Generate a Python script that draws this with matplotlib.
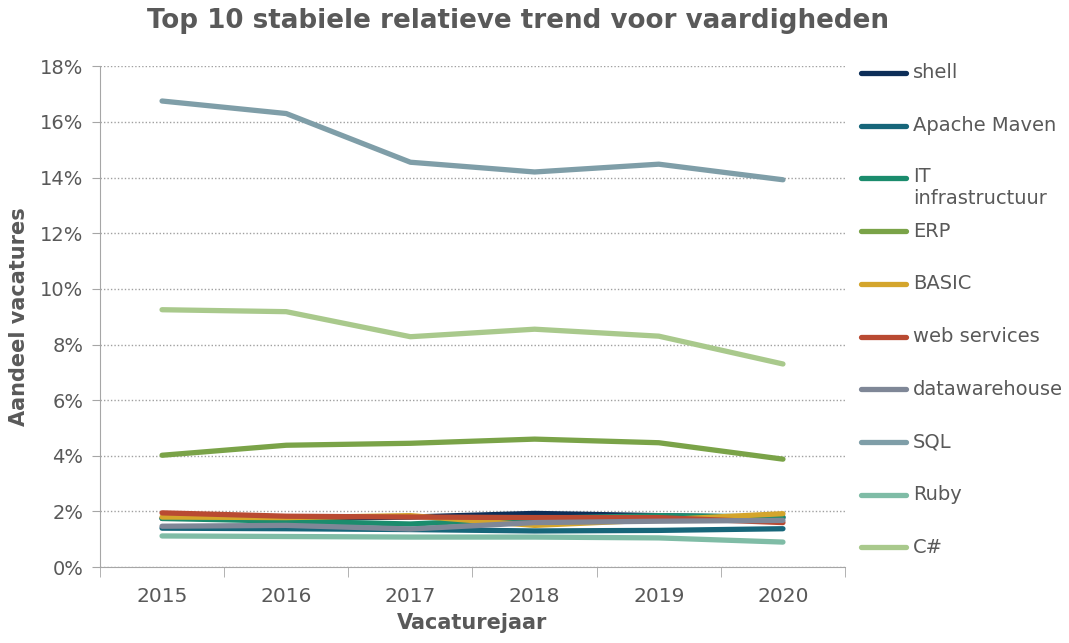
import matplotlib
matplotlib.use("Agg")
import matplotlib.pyplot as plt
from matplotlib.lines import Line2D
from matplotlib.ticker import FuncFormatter, FixedLocator

years = ["2015", "2016", "2017", "2018", "2019", "2020"]
series_names = ["shell", "Apache Maven", "IT\ninfrastructuur", "ERP", "BASIC",
                "web services", "datawarehouse", "SQL", "Ruby", "C#"]
shell = [1.75, 1.75, 1.8, 1.93, 1.85, 1.78]
apache_maven = [1.4, 1.38, 1.35, 1.3, 1.32, 1.38]
it_infra = [1.75, 1.65, 1.55, 1.75, 1.85, 1.8]
erp = [4.02, 4.38, 4.45, 4.6, 4.47, 3.88]
basic = [1.8, 1.78, 1.85, 1.5, 1.7, 1.92]
web_services = [1.95, 1.83, 1.8, 1.78, 1.78, 1.6]
datawarehouse = [1.47, 1.5, 1.37, 1.6, 1.65, 1.68]
sql = [16.75, 16.3, 14.55, 14.2, 14.48, 13.92]
ruby = [1.12, 1.1, 1.08, 1.08, 1.05, 0.9]
csharp = [9.25, 9.18, 8.28, 8.55, 8.3, 7.3]
values = [shell, apache_maven, it_infra, erp, basic, web_services,
          datawarehouse, sql, ruby, csharp]
colors = ["#0d2e58", "#17667a", "#1b8c6d", "#7aa348", "#d4a52c",
          "#b94a32", "#7f8797", "#7f9ea8", "#7fbca6", "#a9c98c"]

TXT = "#595959"
plt.rcParams["font.family"] = "DejaVu Sans"

fig = plt.figure(figsize=(10.69, 6.43), dpi=100)
ax = fig.add_axes([0.0935, 0.118, 0.697, 0.779])

x = list(range(len(years)))
for vals, c in zip(values, colors):
    ax.plot(x, vals, color=c, lw=3.8, solid_capstyle="round", solid_joinstyle="round")

ax.set_xlim(-0.5, len(years) - 0.5)
ax.set_ylim(0, 18)
ax.set_yticks(range(0, 19, 2))
ax.yaxis.set_major_formatter(FuncFormatter(lambda v, p: f"{int(v)}%"))
ax.set_xticks(x)
ax.set_xticklabels(years)
ax.xaxis.set_minor_locator(FixedLocator([i - 0.5 for i in range(len(years) + 1)]))
ax.tick_params(axis="x", which="major", length=0, labelsize=14.5, colors=TXT, pad=14)
ax.tick_params(axis="x", which="minor", length=7, color="#a6a6a6")
ax.tick_params(axis="y", length=6, color="#a6a6a6", labelsize=14, labelcolor=TXT, pad=6)
ax.grid(axis="y", linestyle=(0, (1, 1.5)), color="#a0a0a0", lw=1)
ax.set_axisbelow(True)
for s in ["top", "right"]:
    ax.spines[s].set_visible(False)
for s in ["left", "bottom"]:
    ax.spines[s].set_color("#a6a6a6")

ax.set_xlabel("Vacaturejaar", fontsize=15, fontweight="bold", color=TXT, labelpad=5)
ax.set_ylabel("Aandeel vacatures", fontsize=15, fontweight="bold", color=TXT, labelpad=8)
fig.text(0.485, 0.968, "Top 10 stabiele relatieve trend voor vaardigheden",
         ha="center", va="center", fontsize=18.8, fontweight="bold", color=TXT)

# legend
y0 = 1 - 73 / 643
dy = 52.7 / 643
for i, (name, c) in enumerate(zip(series_names, colors)):
    yy = y0 - i * dy
    fig.add_artist(Line2D([861 / 1069, 906 / 1069], [yy, yy], color=c, lw=3.8,
                          solid_capstyle="round", transform=fig.transFigure))
    if "\n" in name:
        fig.text(913 / 1069, yy + 11 / 643, name, ha="left", va="top",
                 fontsize=14, color=TXT, linespacing=1.15)
    else:
        fig.text(913 / 1069, yy, name, ha="left", va="center",
                 fontsize=14, color=TXT)

fig.savefig("out.png", dpi=100)
